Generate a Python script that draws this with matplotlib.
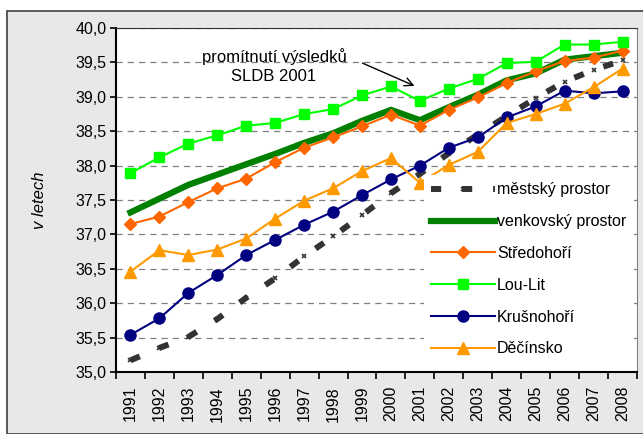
import numpy as np
import matplotlib.pyplot as plt
from matplotlib.patches import Rectangle

plt.rcParams['font.family'] = ['Liberation Sans', 'DejaVu Sans']

roky = [str(r) for r in range(1991, 2009)]

mestsky = [35.17, 35.35, 35.51, 35.77, 36.08, 36.36, 36.68, 36.97, 37.28,
           37.60, 37.88, 38.18, 38.45, 38.72, 38.98, 39.22, 39.39, 39.53]
venkovsky = [37.32, 37.52, 37.72, 37.87, 38.02, 38.17, 38.33, 38.47, 38.65,
             38.81, 38.66, 38.85, 39.03, 39.24, 39.34, 39.54, 39.59, 39.64]
stredohori = [37.15, 37.26, 37.47, 37.67, 37.81, 38.05, 38.26, 38.41, 38.57,
              38.74, 38.58, 38.81, 38.99, 39.20, 39.37, 39.52, 39.57, 39.67]
loulit = [37.89, 38.12, 38.32, 38.44, 38.58, 38.62, 38.75, 38.82, 39.02,
          39.15, 38.94, 39.12, 39.26, 39.49, 39.51, 39.76, 39.76, 39.80]
krusnohori = [35.54, 35.78, 36.15, 36.41, 36.70, 36.92, 37.14, 37.33, 37.57,
              37.80, 38.00, 38.26, 38.41, 38.70, 38.86, 39.09, 39.05, 39.08]
decinsko = [36.46, 36.77, 36.70, 36.78, 36.94, 37.23, 37.49, 37.67, 37.92,
            38.11, 37.75, 38.01, 38.20, 38.62, 38.75, 38.90, 39.14, 39.41]

W, H = 643, 434
fig = plt.figure(figsize=(W / 100, H / 100), dpi=100)
fig.patch.set_facecolor('white')
# sedy ramecek grafu
fig.patches.append(Rectangle((7 / W, 0), 1, 1 - 11 / H, transform=fig.transFigure,
                             facecolor='#e8e8e8', edgecolor='#404040', lw=1.2, zorder=-1))

ax = fig.add_axes([116 / W, 62 / H, 521 / W, 344 / H])
ax.set_facecolor('white')
x = np.arange(len(roky))

ax.plot(x, mestsky, color='#333333', lw=4.3, dashes=(1.7, 3.5), marker='x', ms=3,
        mew=1.2, label='městský prostor', zorder=3)
ax.plot(x, venkovsky, color='#008000', lw=4.5, label='venkovský prostor', zorder=3)
ax.plot(x, stredohori, color='#ff6600', lw=1.5, marker='D', ms=6, label='Středohoří', zorder=4)
ax.plot(x, loulit, color='#00ff00', lw=1.5, marker='s', ms=7, label='Lou-Lit', zorder=4)
ax.plot(x, krusnohori, color='#000080', lw=1.5, marker='o', ms=8, label='Krušnohoří', zorder=4)
ax.plot(x, decinsko, color='#ff9900', lw=1.5, marker='^', ms=8, label='Děčínsko', zorder=4)

ax.set_xlim(-0.5, len(roky) - 0.5)
ax.set_ylim(35, 40)
yt = np.arange(35, 40.01, 0.5)
ax.set_yticks(yt)
ax.set_yticklabels([f'{v:.1f}'.replace('.', ',') for v in yt], fontsize=11.5)
ax.set_xticks(x)
ax.set_xticklabels(roky, rotation=90, fontsize=11.5)
ax.tick_params(axis='x', length=0, pad=10)
ax.set_xticks(np.arange(-0.5, len(roky), 1), minor=True)
ax.tick_params(axis='x', which='minor', length=5, width=1.2)
ax.tick_params(axis='y', length=4, width=1.2, pad=3)
ax.yaxis.grid(True, color='#808080', ls=(0, (5, 4)), lw=0.9)
ax.set_axisbelow(True)
for s in ['left', 'bottom']:
    ax.spines[s].set_linewidth(1.5)
ax.spines['top'].set_color('#333333')
ax.spines['right'].set_color('#808080')

ax.set_ylabel('v letech', style='italic', fontsize=12, labelpad=20)

fig.text(274 / W, 1 - 66 / H, 'promítnutí výsledků\nSLDB 2001', fontsize=12,
         ha='center', va='center', linespacing=1.4)
ax.annotate('', xy=(417 / W, 1 - 87 / H), xytext=(360 / W, 1 - 62 / H),
            xycoords='figure fraction', textcoords='figure fraction',
            arrowprops=dict(arrowstyle='->', color='black', lw=1, mutation_scale=15))

leg = ax.legend(loc='upper left', bbox_to_anchor=(0.575, 0.595), fontsize=11.5,
                frameon=True, facecolor='white', edgecolor='none', framealpha=1,
                fancybox=False, handlelength=4.0, handletextpad=0.15, labelspacing=1.05,
                borderpad=0.45)
leg.set_zorder(5)

fig.savefig('out.png', dpi=100)
